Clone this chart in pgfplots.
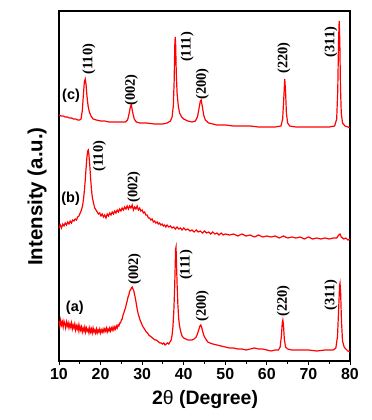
\documentclass[border=0pt]{standalone}
\usepackage{pgfplots}
\pgfplotsset{compat=1.18}
\usepackage{fontspec}
\setmainfont{Liberation Sans}
\newfontfamily\serifb{Liberation Serif}
\begin{document}
\begin{tikzpicture}[x=1bp,y=1bp]
\begin{axis}[
  at={(0bp,0bp)}, anchor=south west,
  scale only axis, width=291bp, height=350bp,
  xmin=10, xmax=80, ymin=0, ymax=350,
  axis line style={line width=1.1pt},
  xtick={10,20,...,80}, minor xtick={15,25,...,75},
  ytick=\empty,
  tick align=outside, xtick pos=bottom,
  major tick length=4bp, minor tick length=2.5bp,
  every tick/.style={black, line width=1pt},
  /pgf/number format/assume math mode=true,
  ticklabel style={font=\bfseries\fontsize{16}{17}\selectfont},
  xlabel={2{\mdseries θ} (Degree)},
  xlabel style={font=\bfseries\fontsize{19.5}{20}\selectfont, at={(axis description cs:0.502,-0.111)}, anchor=center},
  ylabel={Intensity (a.u.)},
  ylabel style={font=\bfseries\fontsize{20.5}{22}\selectfont, at={(axis description cs:-0.0756,0.47)}, anchor=center},
  clip=false,
]
% (a)
\addplot[red, line width=1.2pt] coordinates {
(10.0,40)(10.2,35)(10.4,41)(10.6,36)(10.8,39)(11.0,34)(11.2,40)(11.4,37)(11.6,33)(11.8,39)(12.0,35)(12.2,38)(12.4,33)(12.6,37)(12.8,34)(13.0,38)(13.2,32)(13.4,36)(13.6,33)(13.8,37)(14.0,31)(14.2,35)(14.4,32)(14.6,36)(14.8,30)(15.0,35)(15.2,31)(15.4,34)(15.6,29)(15.8,33)(16.0,30)(16.2,34)(16.4,29)(16.6,33)(16.8,30)(17.0,32)(17.2,28)(17.4,33)(17.6,29)(17.8,32)(18.0,28)(18.2,33)(18.4,29)(18.6,31)(18.8,28)(19.0,32)(19.2,28)(19.4,31)(19.6,29)(19.8,32)(20.0,28)(20.2,31)(20.4,29)(20.6,32)(20.8,29)(21.0,32)(21.2,30)(21.4,33)(21.6,29)(21.8,32)(22.0,30)(22.2,33)(22.4,30)(22.6,33)(22.8,31)(23.0,34)(23.2,31)(23.4,34)(23.6,32)(23.8,35)(24.0,33)(24.2,36)(24.4,35)(24.6,38)(24.8,38)(25.0,41)(25.2,42)(25.4,46)(25.6,48)(25.8,51)(26.0,53)(26.2,57)(26.4,60)(26.6,64)(26.8,66)(27.0,70)(27.2,71)(27.4,73)(27.6,74)(27.8,72)(28.0,70)(28.2,66)(28.4,62)(28.6,57)(28.8,52)(29.0,48)(29.2,45)(29.5,41)(29.8,38)(30.1,35)(30.4,33)(30.7,31)(31.0,29)(31.3,28)(31.6,26)(31.9,25)(32.2,24)(32.5,23)(32.8,22)(33.1,21)(33.4,21)(33.7,20)(34.0,19)(34.3,18)(34.6,18)(34.9,17)(35.2,18)(35.5,16)(35.8,17)(36.1,18)(36.4,17)(36.7,19)(37.0,21)(37.2,26)(37.4,34)(37.6,48)(37.8,70)(37.95,95)(38.05,112)(38.15,114)(38.25,100)(38.4,78)(38.6,56)(38.8,42)(39.0,35)(39.3,29)(39.6,25)(40.0,23)(40.5,22)(41.0,21)(41.5,21)(42.0,21)(42.5,22)(43.0,24)(43.3,27)(43.6,31)(43.9,35)(44.1,36)(44.3,34)(44.6,29)(44.9,25)(45.3,22)(45.8,19)(46.3,18)(47,17)(48,16)(49,15)(50,14)(51,13)(52,13)(53,12)(54,12)(55,11)(56,12)(57,13)(58,12)(59,12)(60,11)(61,10)(62,11)(62.8,11)(63.2,14)(63.5,25)(63.7,38)(63.85,41)(64.0,36)(64.2,22)(64.5,14)(65,12)(66,11)(68,11)(70,11)(72,10)(74,11)(76,11)(76.6,13)(77.0,25)(77.3,55)(77.5,76)(77.6,78)(77.75,68)(77.95,40)(78.2,20)(78.6,14)(79,12)(79.5,10)(80,9)
};
% (b)
\addplot[red, line width=1.2pt] coordinates {
(10,133)(10.3,136)(10.6,133)(10.9,137)(11.2,135)(11.5,138)(11.8,136)(12.1,139)(12.4,137)(12.7,140)(13.0,138)(13.3,141)(13.6,140)(13.9,142)(14.2,141)(14.5,144)(14.8,145)(15.1,148)(15.4,151)(15.7,156)(15.9,162)(16.1,170)(16.3,180)(16.5,192)(16.7,203)(16.9,210)(17.05,211)(17.2,206)(17.4,196)(17.6,183)(17.8,172)(18.0,164)(18.3,158)(18.6,153)(18.9,151)(19.2,149)(19.5,147)(19.8,148)(20.1,145)(20.4,147)(20.7,144)(21.0,146)(21.3,143)(21.6,147)(21.9,145)(22.2,148)(22.5,146)(22.8,149)(23.1,147)(23.4,150)(23.7,148)(24.0,151)(24.3,149)(24.6,152)(24.9,150)(25.2,153)(25.5,151)(25.8,154)(26.1,152)(26.4,155)(26.7,152)(27.0,155)(27.3,153)(27.6,156)(27.9,151)(28.2,154)(28.5,152)(28.8,155)(29.1,151)(29.4,153)(29.7,150)(30.0,151)(30.3,148)(30.6,149)(30.9,146)(31.2,146)(31.5,143)(31.8,143)(32.1,141)(32.4,142)(32.7,139)(33.0,140)(33.3,138)(33.6,139)(33.9,137)(34.2,138)(34.5,136)(34.8,137)(35.1,135)(35.4,136)(35.7,134)(36.0,136)(36.4,134)(36.8,135)(37.2,133)(37.6,134)(38.0,132)(38.4,134)(38.8,132)(39.2,133)(39.6,131)(40.0,133)(40.5,131)(41.0,132)(41.5,130)(42.0,131)(42.5,129)(43.0,131)(43.5,129)(44.0,130)(44.5,128)(45.0,130)(45.5,128)(46.0,129)(46.5,127)(47.0,129)(47.5,127)(48.0,128)(48.5,126)(49.0,128)(49.5,126)(50.0,127)(51,126)(52,127)(53,125)(54,127)(55,125)(56,126)(57,124)(58,126)(59,124)(60,125)(61,124)(62,125)(63,123)(64,125)(65,123)(66,124)(67,123)(68,124)(69,122)(70,124)(71,122)(72,123)(73,122)(74,123)(75,122)(76,123)(76.8,123)(77.3,126)(77.6,127)(77.9,124)(78.5,122)(79,123)(79.5,121)(80,122)
};
% (c)
\addplot[red, line width=1.2pt] coordinates {
(10,246)(10.5,245)(11,245)(11.5,244)(12,244)(12.5,243)(13,243)(13.5,242)(14,242)(14.5,241)(15,241)(15.3,242)(15.6,250)(15.9,268)(16.1,279)(16.3,282)(16.5,277)(16.7,266)(17.0,255)(17.3,249)(17.7,245)(18.2,242)(19,241)(20,240)(21,240)(22,239)(23,239)(24,239)(25,239)(26,239)(26.5,241)(26.9,248)(27.2,255)(27.4,256)(27.7,249)(28.1,242)(28.6,239)(29.5,238)(31,238)(33,237)(35,237)(36,238)(36.8,240)(37.2,244)(37.5,255)(37.7,280)(37.85,315)(37.95,324)(38.05,318)(38.2,290)(38.4,268)(38.7,255)(39,248)(39.5,244)(40,242)(41,240)(42,239)(42.8,240)(43.3,244)(43.7,253)(44.0,260)(44.2,261)(44.5,254)(44.8,246)(45.2,241)(46,238)(47,237)(48,236)(50,236)(52,235)(54,235)(56,235)(58,234)(60,234)(62,234)(63.4,235)(63.8,242)(64.1,265)(64.3,282)(64.5,270)(64.7,248)(65.0,238)(65.5,235)(67,234)(69,234)(71,234)(73,234)(75,234)(76.3,235)(76.8,242)(77.05,270)(77.25,320)(77.4,340)(77.55,320)(77.7,275)(77.9,248)(78.2,238)(78.8,235)(79.5,234)(80,233)
};
% sample labels
\node[font=\bfseries\fontsize{14.5}{16}\selectfont] at (axis cs:12.9,265) {(c)};
\node[font=\bfseries\fontsize{14.5}{16}\selectfont] at (axis cs:12.8,162) {(b)};
\node[font=\bfseries\fontsize{14.5}{16}\selectfont] at (axis cs:13.8,53) {(a)};
% hkl labels
\begin{scope}[every node/.style={rotate=90, font=\serifb\bfseries\fontsize{14.5}{15}\selectfont, inner sep=0pt}]
\node at (axis cs:17.2,302) {(110)};
\node at (axis cs:27.4,271) {(002)};
\node at (axis cs:40.8,314) {(111)};
\node at (axis cs:44.5,277) {(200)};
\node at (axis cs:64.1,303) {(220)};
\node at (axis cs:75.4,319) {(311)};
\node at (axis cs:19.7,205) {(110)};
\node at (axis cs:28.0,174) {(002)};
\node at (axis cs:28.2,92) {(002)};
\node at (axis cs:40.6,96) {(111)};
\node at (axis cs:44.5,55) {(200)};
\node at (axis cs:64.0,60) {(220)};
\node at (axis cs:75.4,66) {(311)};
\end{scope}
\end{axis}
\pgfresetboundingbox
\path[use as bounding box] (-59bp,-59bp) rectangle (313bp,361bp);
\end{tikzpicture}
\end{document}
